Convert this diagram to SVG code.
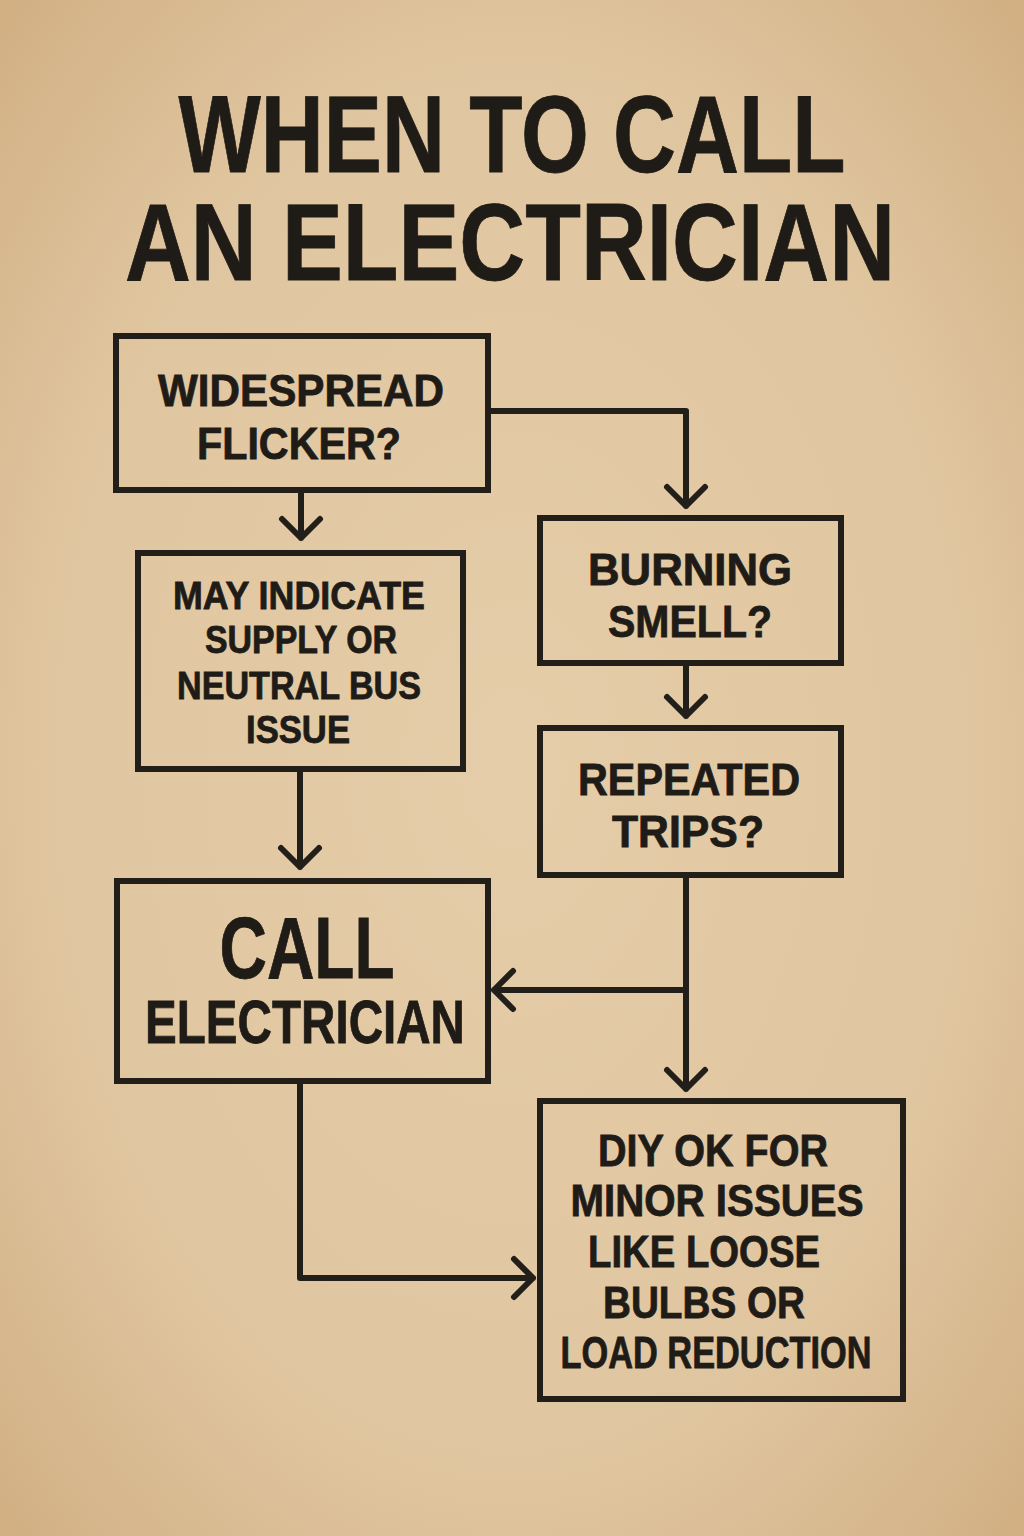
<svg xmlns="http://www.w3.org/2000/svg" width="1024" height="1536" viewBox="0 0 1024 1536">
<defs>
<radialGradient id="bg" cx="50%" cy="50%" r="75%">
<stop offset="0" stop-color="#e5cda9"/>
<stop offset="0.6" stop-color="#e0c6a0"/>
<stop offset="1" stop-color="#cfab7e"/>
</radialGradient>
<style>
.box{fill:none;stroke:#221e19;stroke-width:6;stroke-linejoin:miter}
.ln{fill:none;stroke:#221e19;stroke-width:6;stroke-linecap:round;stroke-linejoin:round}
.t{font-family:"Liberation Sans","DejaVu Sans",sans-serif;font-weight:bold;fill:#1f1b16;text-anchor:middle;stroke:#1f1b16;stroke-width:0.8}
</style>
</defs>
<rect width="1024" height="1536" fill="url(#bg)"/>
<g id="title">
<text class="t" x="512" y="172" font-size="110" textLength="667" lengthAdjust="spacingAndGlyphs">WHEN TO CALL</text>
<text class="t" x="510" y="280" font-size="110" textLength="770" lengthAdjust="spacingAndGlyphs">AN ELECTRICIAN</text>
</g>
<g id="connectors">
<path class="ln" d="M488 411 H686 V506 M667 487 L686 506 L705 487"/>
<path class="ln" d="M301 490 V538 M282 519 L301 538 L320 519"/>
<path class="ln" d="M300 769 V867 M281 848 L300 867 L319 848"/>
<path class="ln" d="M686 663 V716 M667 697 L686 716 L705 697"/>
<path class="ln" d="M686 875 V1089 M667 1070 L686 1089 L705 1070"/>
<path class="ln" d="M686 990 H494 M513 971 L494 990 L513 1009"/>
<path class="ln" d="M300 1081 V1278 H533 M514 1259 L533 1278 L514 1297"/>
</g>
<g id="n1">
<rect class="box" x="116" y="336" width="372" height="154"/>
<text class="t" x="301" y="406" font-size="44" textLength="286" lengthAdjust="spacingAndGlyphs">WIDESPREAD</text>
<text class="t" x="299" y="459" font-size="44" textLength="204" lengthAdjust="spacingAndGlyphs">FLICKER?</text>
</g>
<g id="n2">
<rect class="box" x="138" y="553" width="325" height="216"/>
<text class="t" x="299" y="609" font-size="38" textLength="252" lengthAdjust="spacingAndGlyphs">MAY INDICATE</text>
<text class="t" x="301" y="653" font-size="38" textLength="192" lengthAdjust="spacingAndGlyphs">SUPPLY OR</text>
<text class="t" x="299" y="699" font-size="38" textLength="244" lengthAdjust="spacingAndGlyphs">NEUTRAL BUS</text>
<text class="t" x="298" y="743" font-size="38" textLength="104" lengthAdjust="spacingAndGlyphs">ISSUE</text>
</g>
<g id="n3">
<rect class="box" x="540" y="518" width="301" height="145"/>
<text class="t" x="690" y="585" font-size="44" textLength="204" lengthAdjust="spacingAndGlyphs">BURNING</text>
<text class="t" x="690" y="637" font-size="44" textLength="164" lengthAdjust="spacingAndGlyphs">SMELL?</text>
</g>
<g id="n4">
<rect class="box" x="540" y="728" width="301" height="147"/>
<text class="t" x="689" y="795" font-size="44" textLength="222" lengthAdjust="spacingAndGlyphs">REPEATED</text>
<text class="t" x="688" y="847" font-size="44" textLength="152" lengthAdjust="spacingAndGlyphs">TRIPS?</text>
</g>
<g id="n5">
<rect class="box" x="117" y="881" width="371" height="200"/>
<text class="t" x="307" y="978" font-size="88" textLength="175" lengthAdjust="spacingAndGlyphs">CALL</text>
<text class="t" x="305" y="1043" font-size="62" textLength="320" lengthAdjust="spacingAndGlyphs">ELECTRICIAN</text>
</g>
<g id="n6">
<rect class="box" x="540" y="1101" width="363" height="298"/>
<text class="t" x="713" y="1166" font-size="44" textLength="230" lengthAdjust="spacingAndGlyphs">DIY OK FOR</text>
<text class="t" x="717" y="1216" font-size="44" textLength="293" lengthAdjust="spacingAndGlyphs">MINOR ISSUES</text>
<text class="t" x="704" y="1267" font-size="44" textLength="232" lengthAdjust="spacingAndGlyphs">LIKE LOOSE</text>
<text class="t" x="704" y="1318" font-size="44" textLength="202" lengthAdjust="spacingAndGlyphs">BULBS OR</text>
<text class="t" x="716" y="1368" font-size="44" textLength="311" lengthAdjust="spacingAndGlyphs">LOAD REDUCTION</text>
</g>
</svg>
